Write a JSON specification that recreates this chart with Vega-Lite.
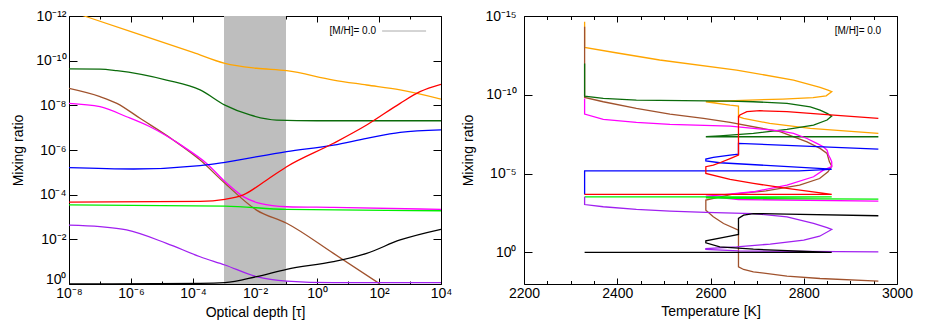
{
  "$schema": "https://vega.github.io/schema/vega-lite/v6.json",
  "background": "white",
  "padding": {"left": 11, "top": 8, "right": 5, "bottom": 5},
  "spacing": 8,
  "config": {
    "font": "Liberation Sans",
    "view": {"stroke": "black", "strokeWidth": 1},
    "axis": {"domain": false, "grid": false, "labelFont": "Liberation Sans", "labelFontSize": 14, "labelColor": "black", "titleFont": "Liberation Sans", "titleFontSize": 14, "titleFontWeight": "normal", "titleColor": "black", "tickColor": "black", "tickWidth": 1, "labelFlush": false, "labelOverlap": false}
  },
  "resolve": {"scale": {"x": "independent", "y": "independent", "color": "independent"}},
  "hconcat": [
    {
      "width": 372,
      "height": 268,
      "resolve": {"axis": {"x": "independent", "y": "independent"}},
      "layer": [
        {
          "data": {"values": [{"tau": 0.001, "tau2": 0.1}]},
          "mark": {"type": "rect", "color": "#bebebe"},
          "encoding": {
            "x": {"field": "tau", "type": "quantitative", "scale": {"type": "log", "domain": [1e-8, 10000], "nice": false}, "axis": null},
            "x2": {"field": "tau2"}
          }
        },
        {
          "data": {"values": [
            {"s": "orange", "tau": 1e-8, "ratio": 5.89e-13}, {"s": "orange", "tau": 1e-6, "ratio": 5.01e-12}, {"s": "orange", "tau": 1e-4, "ratio": 4.27e-11}, {"s": "orange", "tau": 1.07e-3, "ratio": 1.32e-10}, {"s": "orange", "tau": 1.12e-2, "ratio": 2.19e-10}, {"s": "orange", "tau": 0.105, "ratio": 2.82e-10}, {"s": "orange", "tau": 3.4, "ratio": 7.41e-10}, {"s": "orange", "tau": 40, "ratio": 1.23e-9}, {"s": "orange", "tau": 480, "ratio": 2.04e-9}, {"s": "orange", "tau": 10000, "ratio": 5.25e-9},
            {"s": "darkgreen", "tau": 1e-8, "ratio": 2.34e-10}, {"s": "darkgreen", "tau": 1e-7, "ratio": 2.4e-10}, {"s": "darkgreen", "tau": 3.5e-7, "ratio": 2.82e-10}, {"s": "darkgreen", "tau": 1.4e-5, "ratio": 7.41e-10}, {"s": "darkgreen", "tau": 1.7e-4, "ratio": 2.04e-9}, {"s": "darkgreen", "tau": 1.07e-3, "ratio": 9.77e-9}, {"s": "darkgreen", "tau": 6.9e-3, "ratio": 2.69e-8}, {"s": "darkgreen", "tau": 0.05, "ratio": 4.57e-8}, {"s": "darkgreen", "tau": 1, "ratio": 4.9e-8}, {"s": "darkgreen", "tau": 10000, "ratio": 4.9e-8},
            {"s": "sienna", "tau": 1e-8, "ratio": 1.74e-9}, {"s": "sienna", "tau": 1e-7, "ratio": 4.07e-9}, {"s": "sienna", "tau": 3.5e-7, "ratio": 8.13e-9}, {"s": "sienna", "tau": 1.95e-6, "ratio": 3.8e-8}, {"s": "sienna", "tau": 2.3e-5, "ratio": 3.55e-7}, {"s": "sienna", "tau": 1.7e-4, "ratio": 2.82e-6}, {"s": "sienna", "tau": 1.07e-3, "ratio": 3.09e-5}, {"s": "sienna", "tau": 1.12e-2, "ratio": 4.9e-4}, {"s": "sienna", "tau": 0.105, "ratio": 1.91e-3}, {"s": "sienna", "tau": 3.4, "ratio": 4.27e-2}, {"s": "sienna", "tau": 107, "ratio": 1},
            {"s": "magenta", "tau": 1e-8, "ratio": 8.13e-9}, {"s": "magenta", "tau": 1e-7, "ratio": 1.15e-8}, {"s": "magenta", "tau": 7.2e-7, "ratio": 3.24e-8}, {"s": "magenta", "tau": 4.1e-6, "ratio": 9.12e-8}, {"s": "magenta", "tau": 4.9e-5, "ratio": 7.08e-7}, {"s": "magenta", "tau": 2.75e-4, "ratio": 3.98e-6}, {"s": "magenta", "tau": 1.23e-3, "ratio": 3.09e-5}, {"s": "magenta", "tau": 4.2e-3, "ratio": 1.23e-4}, {"s": "magenta", "tau": 1.45e-2, "ratio": 2.45e-4}, {"s": "magenta", "tau": 0.105, "ratio": 3.47e-4}, {"s": "magenta", "tau": 3.4, "ratio": 3.72e-4}, {"s": "magenta", "tau": 10000, "ratio": 4.57e-4},
            {"s": "blue", "tau": 1e-8, "ratio": 6.17e-6}, {"s": "blue", "tau": 1.2e-6, "ratio": 7.08e-6}, {"s": "blue", "tau": 1.7e-4, "ratio": 5.0e-6}, {"s": "blue", "tau": 1.07e-3, "ratio": 3.55e-6}, {"s": "blue", "tau": 0.105, "ratio": 1.17e-6}, {"s": "blue", "tau": 3.4, "ratio": 6.03e-7}, {"s": "blue", "tau": 40, "ratio": 3.02e-7}, {"s": "blue", "tau": 480, "ratio": 1.62e-7}, {"s": "blue", "tau": 10000, "ratio": 1.26e-7},
            {"s": "red", "tau": 1e-8, "ratio": 2.14e-4}, {"s": "red", "tau": 1.7e-4, "ratio": 2.0e-4}, {"s": "red", "tau": 1.07e-3, "ratio": 1.62e-4}, {"s": "red", "tau": 4.2e-3, "ratio": 1.02e-4}, {"s": "red", "tau": 2.4e-2, "ratio": 2.19e-5}, {"s": "red", "tau": 0.105, "ratio": 5.62e-6}, {"s": "red", "tau": 3.4, "ratio": 5.01e-7}, {"s": "red", "tau": 40, "ratio": 7.59e-8}, {"s": "red", "tau": 480, "ratio": 8.13e-9}, {"s": "red", "tau": 2100, "ratio": 2.45e-9}, {"s": "red", "tau": 10000, "ratio": 1.15e-9},
            {"s": "lime", "tau": 1e-8, "ratio": 2.88e-4}, {"s": "lime", "tau": 1.07e-3, "ratio": 3.24e-4}, {"s": "lime", "tau": 0.105, "ratio": 4.57e-4}, {"s": "lime", "tau": 10000, "ratio": 5.25e-4},
            {"s": "purple", "tau": 1e-8, "ratio": 2.29e-3}, {"s": "purple", "tau": 1e-7, "ratio": 2.69e-3}, {"s": "purple", "tau": 7.2e-7, "ratio": 3.8e-3}, {"s": "purple", "tau": 1.4e-5, "ratio": 1.51e-2}, {"s": "purple", "tau": 1.7e-4, "ratio": 6.03e-2}, {"s": "purple", "tau": 1.07e-3, "ratio": 0.141}, {"s": "purple", "tau": 1.12e-2, "ratio": 0.468}, {"s": "purple", "tau": 0.105, "ratio": 0.741}, {"s": "purple", "tau": 3.4, "ratio": 0.871}, {"s": "purple", "tau": 10000, "ratio": 0.871},
            {"s": "black", "tau": 1e-8, "ratio": 0.995}, {"s": "black", "tau": 1.7e-4, "ratio": 0.933}, {"s": "black", "tau": 1.07e-3, "ratio": 0.871}, {"s": "black", "tau": 1.12e-2, "ratio": 0.468}, {"s": "black", "tau": 0.105, "ratio": 0.219}, {"s": "black", "tau": 3.4, "ratio": 0.1}, {"s": "black", "tau": 40, "ratio": 4.27e-2}, {"s": "black", "tau": 480, "ratio": 1.07e-2}, {"s": "black", "tau": 10000, "ratio": 3.55e-3}
          ]},
          "mark": {"type": "line", "strokeWidth": 1.3, "clip": true, "interpolate": "monotone"},
          "encoding": {
            "x": {"field": "tau", "type": "quantitative", "scale": {"type": "log", "domain": [1e-8, 10000], "nice": false},
              "axis": {"orient": "bottom", "title": "Optical depth [τ]", "values": [1e-8, 1e-7, 1e-6, 1e-5, 1e-4, 1e-3, 1e-2, 1e-1, 1, 10, 100, 1000, 10000],
                "tickSize": {"condition": {"test": "round(log(datum.value)/LN10) % 2 == 0", "value": -6}, "value": -3},
                "labelPadding": 8, "titlePadding": 2,
                "labelExpr": "round(log(datum.value)/LN10) % 2 != 0 ? '' : '10' + replace(replace(replace(replace(replace(replace(replace(replace(replace(replace(replace(toString(round(log(datum.value)/LN10)),'-','⁻'),'0','⁰'),'1','¹'),'2','²'),'3','³'),'4','⁴'),'5','⁵'),'6','⁶'),'7','⁷'),'8','⁸'),'9','⁹')"}},
            "y": {"field": "ratio", "type": "quantitative", "scale": {"type": "log", "domain": [1e-12, 1], "reverse": true, "nice": false},
              "axis": {"orient": "left", "title": "Mixing ratio", "values": [1e-12, 1e-10, 1e-8, 1e-6, 1e-4, 1e-2, 1], "tickSize": -8, "labelPadding": 11, "titlePadding": 10,
                "labelOffset": {"condition": {"test": "datum.value == 1", "value": -5}, "value": 0},
                "labelExpr": "'10' + replace(replace(replace(replace(replace(replace(replace(replace(replace(replace(replace(toString(round(log(datum.value)/LN10)),'-','⁻'),'0','⁰'),'1','¹'),'2','²'),'3','³'),'4','⁴'),'5','⁵'),'6','⁶'),'7','⁷'),'8','⁸'),'9','⁹')"}},
            "color": {"field": "s", "type": "nominal", "legend": null,
              "scale": {"domain": ["orange", "darkgreen", "sienna", "magenta", "blue", "red", "lime", "purple", "black"], "range": ["#FFA500", "#0b6b0b", "#A0522D", "#FF00FF", "#0000FF", "#FF0000", "#00EE00", "#A020F0", "#000000"]}}
          }
        },
        {
          "data": {"values": [{"tau": 126, "tau2": 3300, "ratio": 4.7e-12}]},
          "mark": {"type": "rule", "color": "#aaaaaa", "strokeWidth": 1},
          "encoding": {
            "x": {"field": "tau", "type": "quantitative", "scale": {"type": "log", "domain": [1e-8, 10000], "nice": false}, "axis": null},
            "x2": {"field": "tau2"},
            "y": {"field": "ratio", "type": "quantitative", "scale": {"type": "log", "domain": [1e-12, 1], "reverse": true, "nice": false}, "axis": null}
          }
        },
        {
          "data": {"values": [{"tau": 80, "ratio": 4.7e-12, "label": "[M/H]= 0.0"}]},
          "mark": {"type": "text", "align": "right", "baseline": "middle", "fontSize": 10, "font": "Liberation Sans", "color": "black"},
          "encoding": {
            "x": {"field": "tau", "type": "quantitative", "scale": {"type": "log", "domain": [1e-8, 10000], "nice": false},
              "axis": {"orient": "top", "labels": false, "title": null, "values": [1e-8, 1e-7, 1e-6, 1e-5, 1e-4, 1e-3, 1e-2, 1e-1, 1, 10, 100, 1000, 10000],
                "tickSize": {"condition": {"test": "round(log(datum.value)/LN10) % 2 == 0", "value": -6}, "value": -3}}},
            "y": {"field": "ratio", "type": "quantitative", "scale": {"type": "log", "domain": [1e-12, 1], "reverse": true, "nice": false},
              "axis": {"orient": "right", "labels": false, "title": null, "values": [1e-12, 1e-10, 1e-8, 1e-6, 1e-4, 1e-2, 1], "tickSize": -8}},
            "text": {"field": "label"}
          }
        }
      ]
    },
    {
      "width": 373,
      "height": 268,
      "resolve": {"axis": {"x": "independent", "y": "independent"}},
      "layer": [
        {
          "data": {"values": [
            {"s": "orange", "i": 0, "T": 2330, "v": 2.29e-15}, {"s": "orange", "i": 1, "T": 2330, "v": 9.77e-14}, {"s": "orange", "i": 2, "T": 2397, "v": 2.14e-13}, {"s": "orange", "i": 3, "T": 2491, "v": 6.17e-13}, {"s": "orange", "i": 4, "T": 2656, "v": 2.69e-12}, {"s": "orange", "i": 5, "T": 2778, "v": 1.15e-11}, {"s": "orange", "i": 6, "T": 2835, "v": 3.39e-11}, {"s": "orange", "i": 7, "T": 2852, "v": 5.01e-11}, {"s": "orange", "i": 8, "T": 2860, "v": 6.31e-11}, {"s": "orange", "i": 9, "T": 2848, "v": 1.15e-10}, {"s": "orange", "i": 10, "T": 2820, "v": 1.51e-10}, {"s": "orange", "i": 11, "T": 2755, "v": 1.86e-10}, {"s": "orange", "i": 12, "T": 2683, "v": 2.14e-10}, {"s": "orange", "i": 13, "T": 2590, "v": 2.75e-10}, {"s": "orange", "i": 14, "T": 2642, "v": 4.47e-10}, {"s": "orange", "i": 15, "T": 2660, "v": 5.13e-10}, {"s": "orange", "i": 16, "T": 2660, "v": 2.45e-9}, {"s": "orange", "i": 17, "T": 2671, "v": 3.16e-9}, {"s": "orange", "i": 18, "T": 2727, "v": 6.46e-9}, {"s": "orange", "i": 19, "T": 2814, "v": 1.35e-8}, {"s": "orange", "i": 20, "T": 2960, "v": 2.8e-8},
            {"s": "sienna", "i": 0, "T": 2330, "v": 4.79e-15}, {"s": "sienna", "i": 1, "T": 2330, "v": 1.45e-10}, {"s": "sienna", "i": 2, "T": 2370, "v": 2.75e-10}, {"s": "sienna", "i": 3, "T": 2441, "v": 7.24e-10}, {"s": "sienna", "i": 4, "T": 2513, "v": 1.66e-9}, {"s": "sienna", "i": 5, "T": 2585, "v": 3.16e-9}, {"s": "sienna", "i": 6, "T": 2642, "v": 5.62e-9}, {"s": "sienna", "i": 7, "T": 2749, "v": 2.19e-8}, {"s": "sienna", "i": 8, "T": 2807, "v": 9.55e-8}, {"s": "sienna", "i": 9, "T": 2835, "v": 2.51e-7}, {"s": "sienna", "i": 10, "T": 2850, "v": 5.25e-7}, {"s": "sienna", "i": 11, "T": 2855, "v": 1.78e-6}, {"s": "sienna", "i": 12, "T": 2860, "v": 3.31e-6}, {"s": "sienna", "i": 13, "T": 2852, "v": 7.59e-6}, {"s": "sienna", "i": 14, "T": 2834, "v": 2.04e-5}, {"s": "sienna", "i": 15, "T": 2791, "v": 5.37e-5}, {"s": "sienna", "i": 16, "T": 2719, "v": 1.23e-4}, {"s": "sienna", "i": 17, "T": 2648, "v": 2.0e-4}, {"s": "sienna", "i": 18, "T": 2590, "v": 4.79e-4}, {"s": "sienna", "i": 19, "T": 2590, "v": 2.09e-3}, {"s": "sienna", "i": 20, "T": 2606, "v": 5.5e-3}, {"s": "sienna", "i": 21, "T": 2628, "v": 1.45e-2}, {"s": "sienna", "i": 22, "T": 2660, "v": 3.8e-2}, {"s": "sienna", "i": 23, "T": 2660, "v": 8.13}, {"s": "sienna", "i": 24, "T": 2671, "v": 12.0}, {"s": "sienna", "i": 25, "T": 2692, "v": 17.0}, {"s": "sienna", "i": 26, "T": 2764, "v": 31.6}, {"s": "sienna", "i": 27, "T": 2835, "v": 44.7}, {"s": "sienna", "i": 28, "T": 2960, "v": 66.1},
            {"s": "darkgreen", "i": 0, "T": 2330, "v": 1.02e-12}, {"s": "darkgreen", "i": 1, "T": 2330, "v": 1.2e-10}, {"s": "darkgreen", "i": 2, "T": 2370, "v": 1.7e-10}, {"s": "darkgreen", "i": 3, "T": 2441, "v": 2.14e-10}, {"s": "darkgreen", "i": 4, "T": 2642, "v": 2.51e-10}, {"s": "darkgreen", "i": 5, "T": 2692, "v": 2.75e-10}, {"s": "darkgreen", "i": 6, "T": 2764, "v": 3.47e-10}, {"s": "darkgreen", "i": 7, "T": 2814, "v": 5.75e-10}, {"s": "darkgreen", "i": 8, "T": 2835, "v": 9.33e-10}, {"s": "darkgreen", "i": 9, "T": 2850, "v": 1.51e-9}, {"s": "darkgreen", "i": 10, "T": 2860, "v": 2.24e-9}, {"s": "darkgreen", "i": 11, "T": 2850, "v": 3.98e-9}, {"s": "darkgreen", "i": 12, "T": 2821, "v": 8.32e-9}, {"s": "darkgreen", "i": 13, "T": 2764, "v": 1.55e-8}, {"s": "darkgreen", "i": 14, "T": 2692, "v": 2.82e-8}, {"s": "darkgreen", "i": 15, "T": 2620, "v": 3.98e-8}, {"s": "darkgreen", "i": 16, "T": 2590, "v": 4.57e-8}, {"s": "darkgreen", "i": 17, "T": 2660, "v": 4.57e-8}, {"s": "darkgreen", "i": 18, "T": 2960, "v": 4.57e-8},
            {"s": "magenta", "i": 0, "T": 2330, "v": 1.7e-10}, {"s": "magenta", "i": 1, "T": 2330, "v": 1.66e-9}, {"s": "magenta", "i": 2, "T": 2370, "v": 3.63e-9}, {"s": "magenta", "i": 3, "T": 2441, "v": 5.62e-9}, {"s": "magenta", "i": 4, "T": 2513, "v": 7.59e-9}, {"s": "magenta", "i": 5, "T": 2642, "v": 9.55e-9}, {"s": "magenta", "i": 6, "T": 2692, "v": 1.35e-8}, {"s": "magenta", "i": 7, "T": 2749, "v": 1.91e-8}, {"s": "magenta", "i": 8, "T": 2778, "v": 2.82e-8}, {"s": "magenta", "i": 9, "T": 2807, "v": 5.89e-8}, {"s": "magenta", "i": 10, "T": 2828, "v": 1.2e-7}, {"s": "magenta", "i": 11, "T": 2842, "v": 1.95e-7}, {"s": "magenta", "i": 12, "T": 2850, "v": 3.24e-7}, {"s": "magenta", "i": 13, "T": 2853, "v": 6.61e-7}, {"s": "magenta", "i": 14, "T": 2857, "v": 1.1e-6}, {"s": "magenta", "i": 15, "T": 2860, "v": 1.78e-6}, {"s": "magenta", "i": 16, "T": 2860, "v": 3.63e-6}, {"s": "magenta", "i": 17, "T": 2842, "v": 6.03e-6}, {"s": "magenta", "i": 18, "T": 2821, "v": 1.58e-5}, {"s": "magenta", "i": 19, "T": 2764, "v": 5.37e-5}, {"s": "magenta", "i": 20, "T": 2692, "v": 1.41e-4}, {"s": "magenta", "i": 21, "T": 2620, "v": 2.29e-4}, {"s": "magenta", "i": 22, "T": 2590, "v": 2.69e-4}, {"s": "magenta", "i": 23, "T": 2660, "v": 4.37e-4}, {"s": "magenta", "i": 24, "T": 2960, "v": 5.5e-4},
            {"s": "blue", "i": 0, "T": 2330, "v": 2.09e-4}, {"s": "blue", "i": 1, "T": 2330, "v": 6.61e-6}, {"s": "blue", "i": 2, "T": 2790, "v": 6.61e-6}, {"s": "blue", "i": 3, "T": 2857, "v": 5.37e-6}, {"s": "blue", "i": 4, "T": 2860, "v": 5.13e-6}, {"s": "blue", "i": 5, "T": 2620, "v": 2.04e-6}, {"s": "blue", "i": 6, "T": 2590, "v": 1.58e-6}, {"s": "blue", "i": 7, "T": 2590, "v": 1.2e-6}, {"s": "blue", "i": 8, "T": 2606, "v": 9.33e-7}, {"s": "blue", "i": 9, "T": 2642, "v": 6.61e-7}, {"s": "blue", "i": 10, "T": 2660, "v": 5.75e-7}, {"s": "blue", "i": 11, "T": 2660, "v": 1.2e-7}, {"s": "blue", "i": 12, "T": 2960, "v": 2.75e-7},
            {"s": "red", "i": 0, "T": 2330, "v": 2.09e-4}, {"s": "red", "i": 1, "T": 2860, "v": 2.09e-4}, {"s": "red", "i": 2, "T": 2764, "v": 8.71e-5}, {"s": "red", "i": 3, "T": 2692, "v": 4.17e-5}, {"s": "red", "i": 4, "T": 2642, "v": 2.34e-5}, {"s": "red", "i": 5, "T": 2590, "v": 9.77e-6}, {"s": "red", "i": 6, "T": 2590, "v": 3.63e-6}, {"s": "red", "i": 7, "T": 2606, "v": 2.88e-6}, {"s": "red", "i": 8, "T": 2620, "v": 2.04e-6}, {"s": "red", "i": 9, "T": 2642, "v": 1.1e-6}, {"s": "red", "i": 10, "T": 2660, "v": 6.61e-7}, {"s": "red", "i": 11, "T": 2660, "v": 2.45e-9}, {"s": "red", "i": 12, "T": 2663, "v": 1.91e-9}, {"s": "red", "i": 13, "T": 2678, "v": 1.17e-9}, {"s": "red", "i": 14, "T": 2706, "v": 1.02e-9}, {"s": "red", "i": 15, "T": 2764, "v": 1.17e-9}, {"s": "red", "i": 16, "T": 2835, "v": 1.66e-9}, {"s": "red", "i": 17, "T": 2960, "v": 3.16e-9},
            {"s": "lime", "i": 0, "T": 2330, "v": 2.95e-4}, {"s": "lime", "i": 1, "T": 2860, "v": 2.95e-4}, {"s": "lime", "i": 2, "T": 2590, "v": 3.39e-4}, {"s": "lime", "i": 3, "T": 2660, "v": 3.72e-4}, {"s": "lime", "i": 4, "T": 2960, "v": 4.17e-4},
            {"s": "purple", "i": 0, "T": 2330, "v": 2.95e-4}, {"s": "purple", "i": 1, "T": 2330, "v": 9.12e-4}, {"s": "purple", "i": 2, "T": 2370, "v": 1.26e-3}, {"s": "purple", "i": 3, "T": 2441, "v": 1.86e-3}, {"s": "purple", "i": 4, "T": 2513, "v": 2.4e-3}, {"s": "purple", "i": 5, "T": 2590, "v": 2.88e-3}, {"s": "purple", "i": 6, "T": 2692, "v": 3.39e-3}, {"s": "purple", "i": 7, "T": 2764, "v": 5.5e-3}, {"s": "purple", "i": 8, "T": 2821, "v": 1.45e-2}, {"s": "purple", "i": 9, "T": 2850, "v": 2.63e-2}, {"s": "purple", "i": 10, "T": 2860, "v": 3.47e-2}, {"s": "purple", "i": 11, "T": 2834, "v": 9.33e-2}, {"s": "purple", "i": 12, "T": 2800, "v": 0.166}, {"s": "purple", "i": 13, "T": 2728, "v": 0.295}, {"s": "purple", "i": 14, "T": 2656, "v": 0.437}, {"s": "purple", "i": 15, "T": 2590, "v": 0.562}, {"s": "purple", "i": 16, "T": 2590, "v": 0.646}, {"s": "purple", "i": 17, "T": 2660, "v": 0.794}, {"s": "purple", "i": 18, "T": 2960, "v": 0.912},
            {"s": "black", "i": 0, "T": 2330, "v": 1.0}, {"s": "black", "i": 1, "T": 2860, "v": 1.0}, {"s": "black", "i": 2, "T": 2692, "v": 0.617}, {"s": "black", "i": 3, "T": 2620, "v": 0.437}, {"s": "black", "i": 4, "T": 2590, "v": 0.245}, {"s": "black", "i": 5, "T": 2590, "v": 0.182}, {"s": "black", "i": 6, "T": 2642, "v": 9.33e-2}, {"s": "black", "i": 7, "T": 2660, "v": 7.24e-2}, {"s": "black", "i": 8, "T": 2660, "v": 6.92e-3}, {"s": "black", "i": 9, "T": 2671, "v": 4.27e-3}, {"s": "black", "i": 10, "T": 2692, "v": 3.39e-3}, {"s": "black", "i": 11, "T": 2764, "v": 3.72e-3}, {"s": "black", "i": 12, "T": 2960, "v": 4.68e-3}
          ]},
          "mark": {"type": "line", "strokeWidth": 1.3, "clip": true},
          "encoding": {
            "x": {"field": "T", "type": "quantitative", "scale": {"domain": [2200, 3000], "nice": false, "zero": false},
              "axis": {"orient": "bottom", "title": "Temperature [K]", "format": "d", "values": [2200, 2250, 2300, 2350, 2400, 2450, 2500, 2550, 2600, 2650, 2700, 2750, 2800, 2850, 2900, 2950, 3000],
                "tickSize": {"condition": {"test": "datum.value % 200 == 0", "value": -6}, "value": -3.5},
                "labelPadding": 8, "titlePadding": 2,
                "labelExpr": "datum.value % 200 == 0 ? datum.label : ''"}},
            "y": {"field": "v", "type": "quantitative", "scale": {"type": "log", "domain": [1e-15, 100], "reverse": true, "nice": false},
              "axis": {"orient": "left", "title": "Mixing ratio", "values": [1e-15, 1e-10, 1e-5, 1], "tickSize": -8, "labelPadding": 16, "titlePadding": 9,
                "labelExpr": "'10' + replace(replace(replace(replace(replace(replace(replace(replace(replace(replace(replace(toString(round(log(datum.value)/LN10)),'-','⁻'),'0','⁰'),'1','¹'),'2','²'),'3','³'),'4','⁴'),'5','⁵'),'6','⁶'),'7','⁷'),'8','⁸'),'9','⁹')"}},
            "color": {"field": "s", "type": "nominal", "legend": null,
              "scale": {"domain": ["orange", "darkgreen", "sienna", "magenta", "blue", "red", "lime", "purple", "black"], "range": ["#FFA500", "#0b6b0b", "#A0522D", "#FF00FF", "#0000FF", "#FF0000", "#00EE00", "#A020F0", "#000000"]}},
            "order": {"field": "i", "type": "quantitative"}
          }
        },
        {
          "data": {"values": [{"T": 2966, "v": 8.9e-15, "label": "[M/H]= 0.0"}]},
          "mark": {"type": "text", "align": "right", "baseline": "middle", "fontSize": 10, "font": "Liberation Sans", "color": "black"},
          "encoding": {
            "x": {"field": "T", "type": "quantitative", "scale": {"domain": [2200, 3000], "nice": false, "zero": false},
              "axis": {"orient": "top", "labels": false, "title": null, "values": [2200, 2250, 2300, 2350, 2400, 2450, 2500, 2550, 2600, 2650, 2700, 2750, 2800, 2850, 2900, 2950, 3000],
                "tickSize": {"condition": {"test": "datum.value % 200 == 0", "value": -6}, "value": -3.5}}},
            "y": {"field": "v", "type": "quantitative", "scale": {"type": "log", "domain": [1e-15, 100], "reverse": true, "nice": false},
              "axis": {"orient": "right", "labels": false, "title": null, "values": [1e-15, 1e-10, 1e-5, 1], "tickSize": -8}},
            "text": {"field": "label"}
          }
        }
      ]
    }
  ]
}
